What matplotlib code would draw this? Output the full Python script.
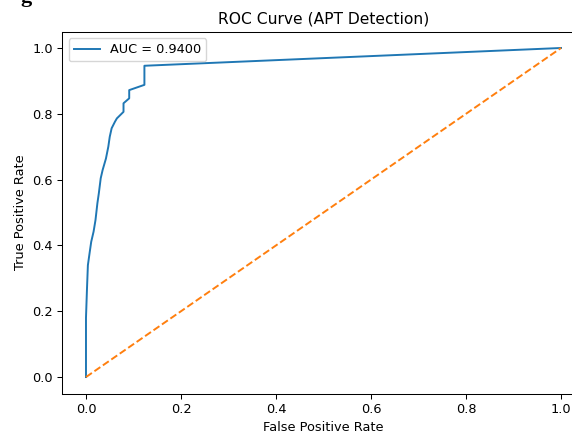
import numpy as np
import matplotlib
matplotlib.use('Agg')
import matplotlib.pyplot as plt

# ROC points
fpr = [0.0, 0.0, 0.002, 0.004, 0.008, 0.011, 0.016, 0.020, 0.024, 0.027, 0.031, 0.035,
       0.042, 0.047, 0.050, 0.054, 0.061, 0.065, 0.079, 0.079, 0.091, 0.091, 0.123, 0.123, 1.0]
tpr = [0.0, 0.18, 0.264, 0.34, 0.381, 0.411, 0.442, 0.477, 0.528, 0.558, 0.604, 0.629,
       0.664, 0.70, 0.73, 0.756, 0.776, 0.786, 0.806, 0.832, 0.847, 0.872, 0.888, 0.946, 1.0]
auc_value = 0.94
diag = [0, 1]

# the reference looks like a slightly shrunk default figure
s = 0.93
plt.rcParams['font.size'] = 10 * s
plt.rcParams['lines.linewidth'] = 1.5 * s
plt.rcParams['axes.linewidth'] = 0.8 * s
plt.rcParams['xtick.major.size'] = 3.5 * s
plt.rcParams['ytick.major.size'] = 3.5 * s
plt.rcParams['xtick.major.width'] = 0.8 * s
plt.rcParams['ytick.major.width'] = 0.8 * s

fig = plt.figure(figsize=(5.72, 4.32), dpi=100)
ax = fig.add_axes([0.1088, 0.0891, 0.9135, 0.8379])
ax.plot(fpr, tpr, label='AUC = {:.4f}'.format(auc_value))
ax.plot(diag, diag, linestyle='--')
ax.set_xlabel('False Positive Rate')
ax.set_ylabel('True Positive Rate')
ax.set_title('ROC Curve (APT Detection)')
ax.legend(loc='upper left')

# fragment of the surrounding document caption
fig.text(0.035, 1 - 2 / 432, 'g', fontsize=16, fontweight='bold', family='Liberation Serif',
         va='baseline', ha='left')

fig.savefig('out.png', dpi=100)
